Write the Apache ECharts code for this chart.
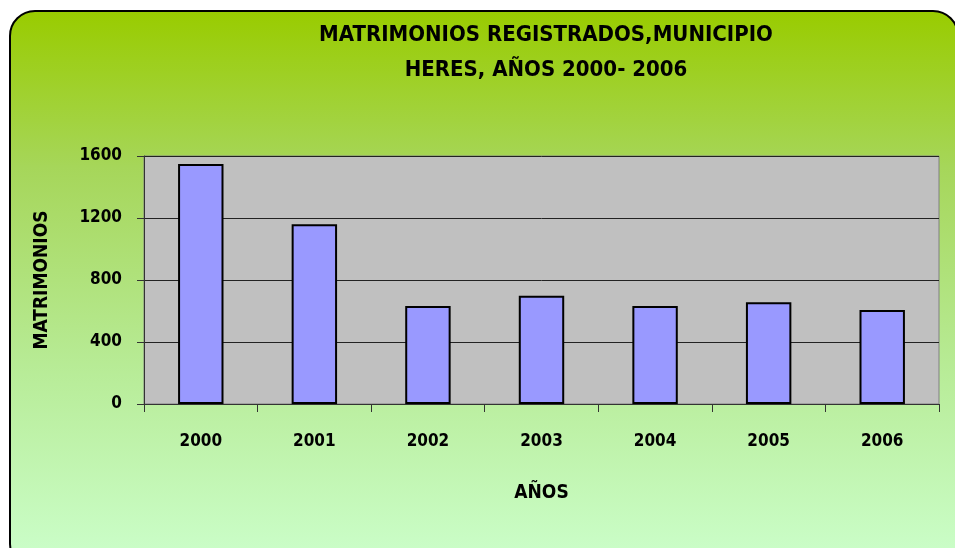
<!DOCTYPE html>
<html>
<head>
<meta charset="utf-8">
<script src="https://cdn.jsdelivr.net/npm/echarts@6/dist/echarts.min.js"></script>
<style>
  html, body { margin: 0; padding: 0; background: #fff; }
  #frame {
    position: absolute; left: 9px; top: 10px; width: 950px; height: 560px;
    border: 2px solid #000; border-radius: 26px; box-sizing: border-box;
    background: linear-gradient(to bottom, #99cc00 0%, #a6d65a 28%, #b8ec98 65%, #ccffcc 100%);
  }
  #chart { position: absolute; left: 0; top: 0; width: 955px; height: 548px; }
</style>
</head>
<body>
<div id="frame"></div>
<div id="chart"></div>
<script>
// datos del gráfico
const years = ['2000', '2001', '2002', '2003', '2004', '2005', '2006']
const matrimonios = [1548, 1160, 633, 698, 633, 657, 606]
const yTicks = [0, 400, 800, 1200, 1600]

const chart = echarts.init(document.getElementById('chart'))

const font = '"Liberation Sans Narrow", "Arial Narrow", "DejaVu Sans Condensed", sans-serif'

chart.setOption({
  backgroundColor: 'transparent',
  title: {
    text: 'MATRIMONIOS REGISTRADOS,MUNICIPIO\nHERES, AÑOS 2000- 2006',
    left: 541,
    top: 13,
    textAlign: 'center',
    textStyle: { fontFamily: font, fontSize: 22, fontWeight: 'bold', color: '#000', lineHeight: 35 }
  },
  grid: { left: 144, right: 16, top: 156, bottom: 144, show: true, backgroundColor: '#c0c0c0', borderColor: '#808080', borderWidth: 1 },
  xAxis: {
    type: 'category',
    data: years,
    name: 'AÑOS',
    nameLocation: 'middle',
    nameGap: 80,
    nameTextStyle: { fontFamily: font, fontSize: 19, fontWeight: 'bold', color: '#000' },
    axisLine: { lineStyle: { color: '#333', width: 1 } },
    axisTick: { show: true, length: 8, alignWithLabel: false, lineStyle: { color: '#333' } },
    axisLabel: { margin: 29, fontFamily: font, fontSize: 17, fontWeight: 'bold', color: '#000' }
  },
  yAxis: {
    type: 'value',
    min: yTicks[0],
    max: yTicks[yTicks.length - 1],
    interval: 400,
    name: 'MATRIMONIOS',
    nameLocation: 'middle',
    nameGap: 92,
    nameRotate: 90,
    nameTextStyle: { fontFamily: font, fontSize: 19, fontWeight: 'bold', color: '#000' },
    axisLine: { show: true, lineStyle: { color: '#333', width: 1 } },
    axisTick: { show: true, length: 7, lineStyle: { color: '#333' } },
    axisLabel: { margin: 22, fontFamily: font, fontSize: 17, fontWeight: 'bold', color: '#000', formatter: v => String(v) },
    splitLine: { lineStyle: { color: '#222', width: 1 } }
  },
  series: [{
    type: 'bar',
    data: matrimonios,
    barWidth: '40%',
    itemStyle: { color: '#9999ff', borderColor: '#000', borderWidth: 2 }
  }]
})
</script>
</body>
</html>
